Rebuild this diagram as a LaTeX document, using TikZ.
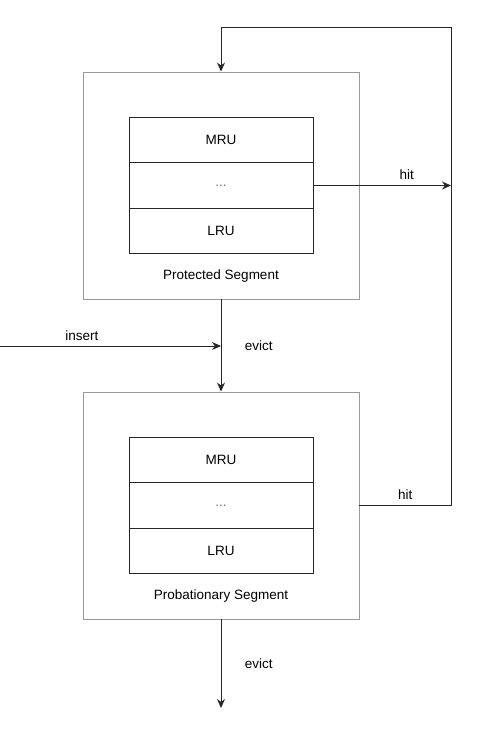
\documentclass[tikz,border=0pt]{standalone}
\usepackage{fontspec}
\setmainfont{Liberation Sans}
\usetikzlibrary{arrows.meta,positioning}

\begin{document}
\begin{tikzpicture}[x=1pt,y=-1pt,
    seg/.style={draw=black!40,line width=0.9pt,minimum width=276pt,minimum height=227pt,inner sep=0pt},
    slot/.style={draw=black!85,line width=0.9pt,minimum width=184pt,minimum height=45.5pt,inner sep=0pt,outer sep=0pt},
    lbl/.style={font=\fontsize{13.5}{15}\selectfont},
    flow/.style={draw=black!85,line width=0.9pt,-{Stealth[length=9pt,width=8pt]}}]
  \useasboundingbox (0,0) rectangle (477,742);
  \foreach \s/\cy/\name in {prot/185.5/Protected Segment, prob/505.5/Probationary Segment}{
    \node[seg] (\s) at (221,\cy) {};
    \node[slot,lbl,text=black!55] (\s-mid) at (\s) {...};
    \node[slot,lbl,above=0pt of \s-mid] (\s-mru) {MRU};
    \node[slot,lbl,below=0pt of \s-mid] (\s-lru) {LRU};
    \node[lbl] (\s-name) at ([yshift=23pt]\s.south) {\name};
  }
  \coordinate (rt) at (451,27);
  \coordinate (in) at (0,346);
  \coordinate (out) at (221,708);
  % promotion back to the protected segment
  \draw[flow] (prob.east) -| node[lbl,pos=0.25,above=2pt] {hit} (rt) -| (prot.north);
  \draw[flow] (prot-mid.east) -- node[lbl,pos=0.68,above=2pt] {hit} (prot-mid.east -| rt);
  % demotion and eviction
  \draw[flow] (prot.south) -- node[lbl,right=20pt] {evict} (prob.north);
  \draw[flow] (in) -- node[lbl,pos=0.37,above=2pt] {insert} (in -| prot.south);
  \draw[flow] (prob.south) -- node[lbl,right=20pt] {evict} (out);
\end{tikzpicture}
\end{document}
